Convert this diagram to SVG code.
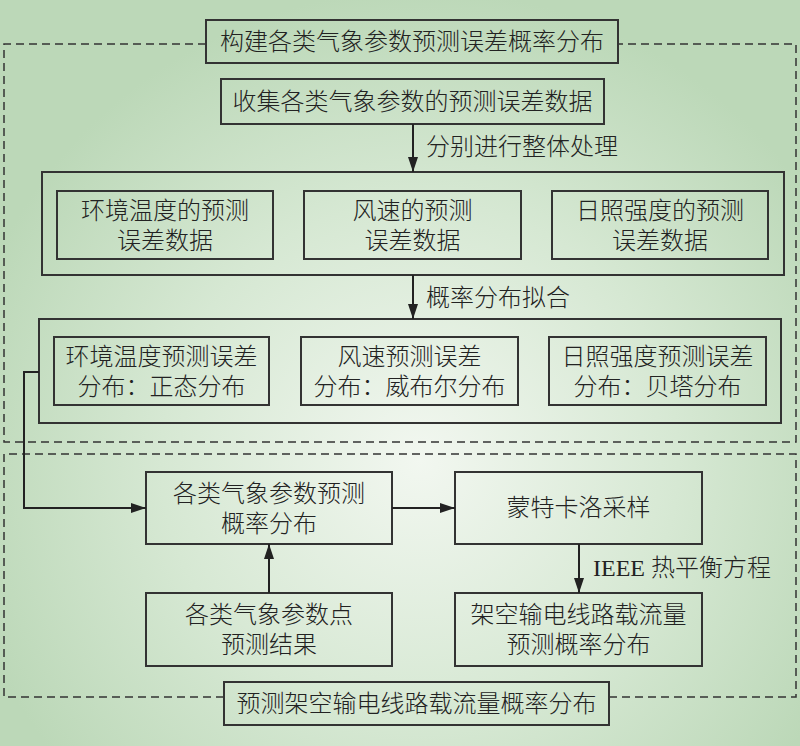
<svg xmlns="http://www.w3.org/2000/svg" width="800" height="746" viewBox="0 0 800 746">
<defs>
<radialGradient id="bg" gradientUnits="userSpaceOnUse" cx="420" cy="460" r="470">
<stop offset="0" stop-color="#f2f7f0"/>
<stop offset="0.55" stop-color="#d6e8d3"/>
<stop offset="1" stop-color="#bcd8b8"/>
</radialGradient>
<marker id="arr" viewBox="0 0 15 10" refX="15" refY="5" markerWidth="15" markerHeight="10" markerUnits="userSpaceOnUse" orient="auto">
<path d="M0,0 L15,5 L0,10 z" fill="#222"/>
</marker>
<style>
.box{fill:none;stroke:#333;stroke-width:2}
.dash{fill:none;stroke:#333;stroke-width:1.5;stroke-dasharray:8 5}
.con{fill:none;stroke:#222;stroke-width:2}
text{font-family:"Liberation Serif","Noto Sans CJK SC",serif;font-size:24px;font-weight:300;fill:#222;dominant-baseline:central}
.c{text-anchor:middle}
</style>
</defs>
<rect x="0" y="0" width="800" height="746" fill="url(#bg)"/>
<g id="frames">
<path class="dash" d="M206,44 H4 V442 H796 V44 H618"/>
<path class="dash" d="M224,697 H4 V454 H796 V697 H609"/>
</g>
<g id="title-top">
<rect class="box" x="206" y="20" width="412" height="43"/>
<text class="c" x="412" y="42">构建各类气象参数预测误差概率分布</text>
</g>
<g id="collect">
<rect class="box" x="221" y="79" width="383" height="45"/>
<text class="c" x="412.5" y="102">收集各类气象参数的预测误差数据</text>
</g>
<g id="group-data">
<rect class="box" x="42" y="172" width="742" height="103"/>
</g>
<g id="data-temp">
<rect class="box" x="57" y="191" width="216" height="68"/>
<text class="c" x="165" y="211">环境温度的预测</text>
<text class="c" x="165" y="241">误差数据</text>
</g>
<g id="data-wind">
<rect class="box" x="304" y="191" width="217" height="68"/>
<text class="c" x="412.5" y="211">风速的预测</text>
<text class="c" x="412.5" y="241">误差数据</text>
</g>
<g id="data-sun">
<rect class="box" x="552" y="191" width="216" height="68"/>
<text class="c" x="660" y="211">日照强度的预测</text>
<text class="c" x="660" y="241">误差数据</text>
</g>
<g id="group-dist">
<rect class="box" x="39" y="319" width="742" height="104"/>
</g>
<g id="dist-temp">
<rect class="box" x="54" y="337" width="215" height="68"/>
<text class="c" x="161.5" y="357">环境温度预测误差</text>
<text class="c" x="161.5" y="387">分布：正态分布</text>
</g>
<g id="dist-wind">
<rect class="box" x="301" y="337" width="217" height="68"/>
<text class="c" x="409.5" y="357">风速预测误差</text>
<text class="c" x="409.5" y="387">分布：威布尔分布</text>
</g>
<g id="dist-sun">
<rect class="box" x="549" y="337" width="217" height="68"/>
<text class="c" x="657.5" y="357">日照强度预测误差</text>
<text class="c" x="657.5" y="387">分布：贝塔分布</text>
</g>
<g id="prob">
<rect class="box" x="146" y="472" width="246" height="72"/>
<text class="c" x="269" y="494">各类气象参数预测</text>
<text class="c" x="269" y="524">概率分布</text>
</g>
<g id="mc">
<rect class="box" x="455" y="472" width="247" height="72"/>
<text class="c" x="578.5" y="508">蒙特卡洛采样</text>
</g>
<g id="point">
<rect class="box" x="146" y="593" width="246" height="73"/>
<text class="c" x="269" y="615">各类气象参数点</text>
<text class="c" x="269" y="645">预测结果</text>
</g>
<g id="ampacity">
<rect class="box" x="455" y="593" width="247" height="73"/>
<text class="c" x="578.5" y="615">架空输电线路载流量</text>
<text class="c" x="578.5" y="645">预测概率分布</text>
</g>
<g id="title-bottom">
<rect class="box" x="224" y="682" width="385" height="43"/>
<text class="c" x="416.5" y="704">预测架空输电线路载流量概率分布</text>
</g>
<g id="connectors">
<path class="con" d="M413,124 V172" marker-end="url(#arr)"/>
<text x="426" y="147">分别进行整体处理</text>
<path class="con" d="M413,275 V319" marker-end="url(#arr)"/>
<text x="426" y="298">概率分布拟合</text>
<path class="con" d="M39,372 H24 V508 H146" marker-end="url(#arr)"/>
<path class="con" d="M392,508 H455" marker-end="url(#arr)"/>
<path class="con" d="M269,593 V544" marker-end="url(#arr)"/>
<path class="con" d="M579,544 V593" marker-end="url(#arr)"/>
<text x="593" y="568">IEEE 热平衡方程</text>
</g>
</svg>
